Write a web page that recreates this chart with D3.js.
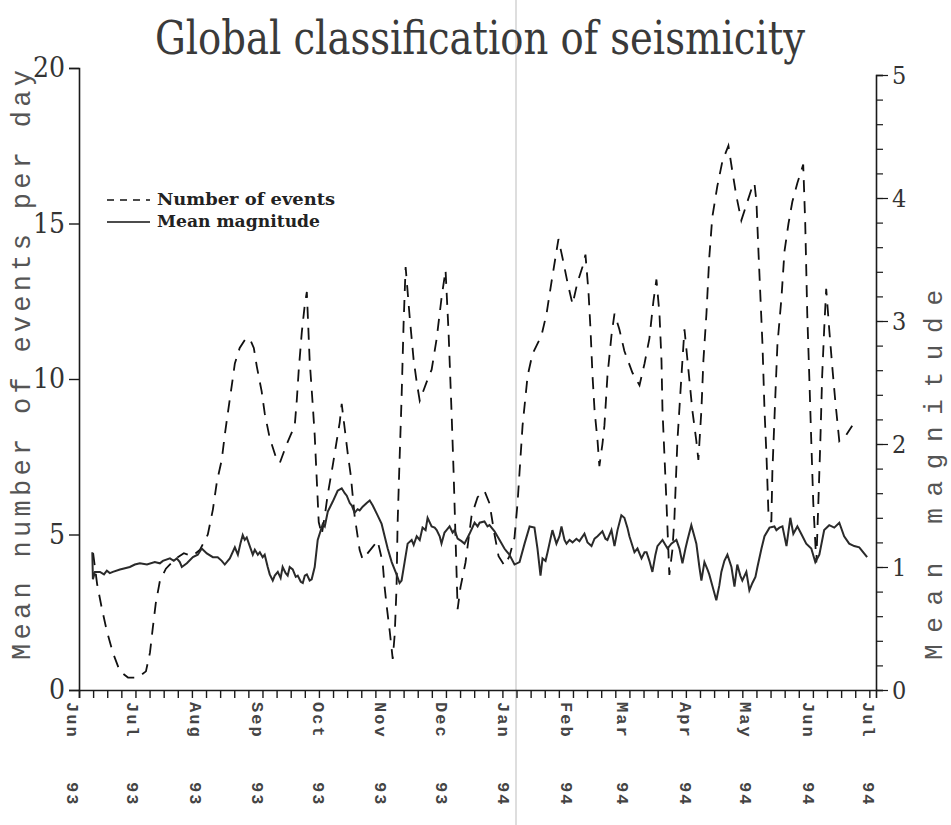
<!DOCTYPE html>
<html><head><meta charset="utf-8">
<script src="https://cdn.jsdelivr.net/npm/d3@7"></script>
<style>
html,body{margin:0;padding:0;background:#fff;}
svg{display:block;}
</style></head>
<body>
<svg id="chart" width="951" height="825"></svg>
<script>
// ---- data (days since 1 Jun 1993) ----
const eventDays = [10,12,14.4,16.8,19.8,23.3,27.3,32.2,36.2,38.2,39.6,41.1,43.1,46.1,50.5,55,59,62.9,66.9,69.4,71.4,73.8,75.3,76.8,78.8,80.3,82.7,85.7,87.7,89.7,91.2,93.6,95.1,97.6,100.6,102.6,106,108,110,111,112,113.5,115,116,117.4,118.9,119.9,120.9,121.9,123.4,124.9,126.4,128.8,130.8,132.3,133.3,134.8,136.3,137.8,139.7,142.2,143.7,146.2,148.7,151.1,153.6,154.6,155.6,157.1,158.6,159.6,160.5,161,162,163,164,165,167,169,170.5,172,175.4,177.9,180.4,182.8,184.8,186.3,187.8,188.8,189.8,190.8,192.2,194.7,197.7,200.7,204.1,206.6,209.1,211.1,214,216.5,219,220.5,221.5,223,225.5,227.9,232.4,234.9,237.3,239.3,240.8,242.8,245.3,247.8,250.2,252.7,254.2,255.7,256.7,257.7,258.7,260.2,261.1,262.6,263.6,265.1,267.1,268.6,271,273.5,277.5,281,283.5,285.9,287.9,289.4,290.9,291.9,292.4,293.4,294.4,295,295.8,297.3,298.3,299.8,301.8,303.3,304.8,307.2,309.2,310.2,311.7,312.7,314.2,315.6,317.1,319.6,322.1,325.1,327,329,331.5,334,336.5,338,339,340,341,342,343,344,345,346.4,346.9,348.4,349.4,351.4,352.9,354.9,356.8,359.3,362.2,363.2,364.2,365.2,366.2,367.2,368.7,369.7,370.7,371.6,372.6,373.6,375.1,376.6,378.1,380.1,383.5,386.5];
const eventValues = [4.4,3.4,2.6,1.9,1.2,0.6,0.4,0.4,0.6,1.2,2.0,2.8,3.5,3.9,4.2,4.4,4.3,4.5,5.0,5.8,6.7,7.4,8.2,8.9,9.8,10.5,11.0,11.3,11.3,11.0,10.4,9.6,8.9,8.1,7.5,7.3,7.9,8.2,8.5,9.3,10.3,11.5,12.4,12.8,10.6,9.2,8.2,6.8,5.4,5.0,5.6,6.3,7.2,8.0,8.6,9.2,8.4,7.6,6.9,5.6,4.5,4.2,4.4,4.6,4.8,4.1,3.3,2.7,1.9,1.0,1.8,3.3,5.3,7.4,9.4,11.8,13.6,12.0,10.6,9.9,9.3,9.9,10.3,11.3,12.6,13.5,11.5,8.9,7.0,4.8,2.6,3.3,4.1,5.6,6.2,6.4,6.0,5.0,4.3,4.0,4.3,4.9,6.0,7.0,8.5,10.1,10.8,11.4,12.1,13.1,13.9,14.5,13.9,13.1,12.4,13.1,13.6,14.0,12.8,11.6,10.1,9.0,8.0,7.2,7.9,8.5,10.1,11.4,12.1,11.6,10.9,10.2,9.8,10.5,11.3,12.5,13.2,12.1,10.6,9.0,7.5,6.0,5.0,3.7,4.5,5.5,8.0,10.1,11.6,10.6,9.0,8.0,7.4,9.0,10.6,12.1,13.9,15.2,16.2,17.0,17.5,16.7,15.9,15.1,15.6,16.1,16.3,15.7,14.1,12.6,11.1,9.0,7.5,5.6,5.4,7.0,9.5,11.1,12.6,14.1,15.0,15.7,16.3,16.9,15.0,12.1,10.1,8.0,6.0,4.1,6.0,8.0,10.1,11.6,12.9,11.6,10.4,9.3,8.0,8.2,8.5];

const magDays = [9.6,9.9,10.9,13.4,15.4,16.8,18.3,19.8,23.3,25.8,28.2,30.7,33.2,36.7,40.6,43.1,44.6,48.1,50,51.5,53,54,56.5,59.5,61.9,63.9,66.4,69.4,71.8,73.8,75.3,77.8,80.3,81.8,83.2,84.2,85.2,86.2,87.7,89.2,90.2,91.7,92.7,94.1,95.1,96.6,97.6,99.1,100.1,101.6,103,104,105.5,106.5,107.5,109,110.5,111.5,113,114,115,116,117.4,118.4,119.9,121.4,123.9,124.9,126.4,128.8,131.3,133.3,134.8,135.8,137.3,138.3,139.7,141.2,142.2,143.7,145.7,147.2,148.7,151.1,153.1,154.6,156.1,158.1,160.5,162,163,164.5,166,168,169,170.5,172,173.4,174.9,175.9,177.9,179.4,180.4,181.9,182.8,184.3,185.3,186.8,188.3,189.3,190.8,192.7,194.2,196.7,199.2,200.7,201.7,204.1,205.6,206.6,209.1,211.6,214,215,216.5,219,221.5,224,226.5,228.9,230.4,231.9,232.9,234.4,235.4,237.8,239.8,241.3,242.3,243.8,244.8,246.3,247.8,249.7,251.2,253.7,255.2,257.2,258.7,260.2,262.6,264.1,265.1,267.1,268.6,270.1,272,273.5,275,276,278.5,280,282,283.5,284.5,285.9,287.4,288.9,289.9,292.4,294.9,296.8,299.3,300.8,302.3,303.8,304.8,306.7,308.2,309.2,310.7,311.7,313.2,314.7,315.6,317.1,319.1,320.6,321.6,323.1,324.6,326.6,328.1,329.5,331,332,334,335.5,337,338.5,339.5,341.5,343,345.5,347.9,348.9,350.4,351.9,353.9,355.8,357.3,359.3,361.2,363.7,366.2,368.2,370.2,372.6,375.1,377.6,380.1,382.5,385,387.5,390,392.4,393.9];
const magValues = [1.12,0.90,0.96,0.96,0.94,0.97,0.95,0.96,0.98,0.99,1.00,1.02,1.03,1.02,1.04,1.03,1.05,1.07,1.05,1.07,1.04,1.00,1.03,1.08,1.10,1.15,1.11,1.08,1.08,1.05,1.02,1.07,1.16,1.10,1.20,1.26,1.22,1.24,1.17,1.10,1.14,1.10,1.12,1.08,1.10,1.00,0.94,0.89,0.93,0.96,0.91,1.00,0.95,0.93,1.00,0.98,0.92,0.93,0.88,0.87,0.93,0.94,0.89,0.90,1.00,1.22,1.35,1.33,1.45,1.53,1.62,1.64,1.60,1.58,1.52,1.50,1.44,1.47,1.46,1.49,1.52,1.54,1.50,1.42,1.35,1.25,1.15,1.04,0.94,0.87,0.89,1.04,1.19,1.22,1.18,1.25,1.22,1.32,1.30,1.40,1.33,1.32,1.30,1.25,1.19,1.28,1.30,1.33,1.28,1.30,1.23,1.21,1.19,1.27,1.36,1.33,1.36,1.37,1.33,1.34,1.29,1.22,1.15,1.13,1.10,1.02,1.04,1.19,1.33,1.32,1.15,0.93,1.07,1.05,1.12,1.30,1.19,1.25,1.33,1.22,1.19,1.22,1.20,1.23,1.21,1.27,1.20,1.17,1.23,1.25,1.29,1.23,1.22,1.30,1.17,1.30,1.42,1.40,1.32,1.25,1.12,1.15,1.07,1.12,1.12,1.05,0.96,1.10,1.17,1.22,1.15,1.19,1.22,1.15,1.03,1.15,1.22,1.34,1.25,1.19,1.00,0.89,1.04,0.98,0.94,0.85,0.73,0.85,0.96,1.05,1.10,1.00,0.84,1.02,0.93,0.89,0.96,0.81,0.87,0.92,1.00,1.15,1.25,1.32,1.33,1.30,1.32,1.33,1.17,1.40,1.27,1.33,1.27,1.19,1.15,1.04,1.10,1.30,1.34,1.32,1.36,1.25,1.19,1.17,1.16,1.11,1.08];

const monthLabels = ["Jun","Jul","Aug","Sep","Oct","Nov","Dec","Jan","Feb","Mar","Apr","May","Jun","Jul"];
const yearLabels  = ["93","93","93","93","93","93","93","94","94","94","94","94","94","94"];
const leftTicks = [0,5,10,15,20];
const rightTicks = [0,1,2,3,4,5];
const legendLabels = ["Number of events","Mean magnitude"];
const titleText = "Global classification of seismicity";
const leftTitle = "Mean number of events per day";
const rightTitle = "Mean magnitude";

// ---- layout ----
const base = new Date(1993,5,1).getTime();
const toDate = d => new Date(base + d*864e5);
const X0 = 79, X1 = 876, YB = 690;
const x = d3.scaleTime().domain([toDate(3), toDate(398.3)]).range([X0, X1]);
const yL = d3.scaleLinear().domain([0,20]).range([YB, 68]);
const yR = d3.scaleLinear().domain([0,5]).range([YB, 75]);

const svg = d3.select("#chart");
const ink = "#1a1a1a";

// scan fold line
svg.append("line").attr("x1",516).attr("x2",516).attr("y1",0).attr("y2",825)
  .attr("stroke","#c8c8c8").attr("stroke-width",1.2);

// title
svg.append("text").attr("x",480).attr("y",54).attr("text-anchor","middle")
  .attr("font-family","DejaVu Serif Condensed").attr("font-size",46)
  .attr("textLength",650).attr("lengthAdjust","spacingAndGlyphs")
  .attr("fill","#3a3a3a").text(titleText);

// left axis
const gL = svg.append("g").attr("transform",`translate(${X0},0)`);
gL.call(d3.axisLeft(yL).tickValues(leftTicks).tickSize(10).tickPadding(4).tickFormat(d3.format("d")));
gL.select(".domain").attr("stroke",ink).attr("stroke-width",1.6);
gL.selectAll(".tick line").attr("stroke",ink).attr("stroke-width",1.4);
gL.selectAll(".tick text").attr("font-family","DejaVu Serif Condensed").attr("font-size",28).attr("fill","#333");

// right axis
const gR = svg.append("g").attr("transform",`translate(${X1},0)`);
gR.call(d3.axisRight(yR).tickValues(d3.range(0,5.01,0.2)).tickSize(7).tickFormat(""));
gR.select(".domain").attr("stroke",ink).attr("stroke-width",1.6);
gR.selectAll(".tick line").attr("stroke",ink).attr("stroke-width",1.2);
const gR2 = svg.append("g").attr("transform",`translate(${X1},0)`);
gR2.call(d3.axisRight(yR).tickValues(rightTicks).tickSize(12).tickPadding(4).tickFormat(d3.format("d")));
gR2.select(".domain").remove();
gR2.selectAll(".tick line").attr("stroke",ink).attr("stroke-width",1.2);
gR2.selectAll(".tick text").attr("font-family","DejaVu Serif Condensed").attr("font-size",25).attr("fill","#333");

// bottom axis (weekly ticks)
const weekTicks = d3.range(3, 399, 7).map(toDate);
const gB = svg.append("g").attr("transform",`translate(0,${YB})`);
gB.call(d3.axisBottom(x).tickValues(weekTicks).tickSize(8).tickFormat(""));
gB.select(".domain").attr("stroke",ink).attr("stroke-width",1.6);
gB.selectAll(".tick line").attr("stroke",ink).attr("stroke-width",1.4);

// month labels
const months = d3.timeMonth.range(new Date(1993,5,1), new Date(1994,6,2));
months.forEach((m,i) => {
  const px = x(m);
  svg.append("text").attr("transform",`translate(${px},702) rotate(90)`)
    .attr("dy","0.35em").attr("font-family","Liberation Mono").attr("font-weight","bold")
    .attr("font-size",17).attr("letter-spacing",2).attr("fill","#444").text(monthLabels[i]);
  svg.append("text").attr("transform",`translate(${px},782) rotate(90)`)
    .attr("dy","0.35em").attr("font-family","Liberation Mono").attr("font-weight","bold")
    .attr("font-size",17).attr("letter-spacing",2).attr("fill","#444").text(yearLabels[i]);
});

// axis titles
svg.append("text").attr("transform","translate(30,365) rotate(-90)").attr("text-anchor","middle")
  .attr("font-family","Liberation Mono").attr("font-size",27).attr("fill","#555")
  .attr("textLength",590).attr("lengthAdjust","spacing").text(leftTitle);
svg.append("text").attr("transform","translate(942,475) rotate(-90)").attr("text-anchor","middle")
  .attr("font-family","Liberation Mono").attr("font-size",26).attr("fill","#555")
  .attr("textLength",370).attr("lengthAdjust","spacing").text(rightTitle);

// series
const evData = eventDays.map((d,i)=>({t:toDate(d), v:eventValues[i]}));
const mgData = magDays.map((d,i)=>({t:toDate(d), v:magValues[i]}));
svg.append("path").datum(evData)
  .attr("d", d3.line().x(d=>x(d.t)).y(d=>yL(d.v)))
  .attr("fill","none").attr("stroke","#111").attr("stroke-width",1.8)
  .attr("stroke-dasharray","12,9");
svg.append("path").datum(mgData)
  .attr("d", d3.line().x(d=>x(d.t)).y(d=>yR(d.v)))
  .attr("fill","none").attr("stroke","#2a2a2a").attr("stroke-width",2);

// legend
const lg = svg.append("g");
[0,1].forEach(i=>{
  const ly = 200 + i*22;
  lg.append("line").attr("x1",107).attr("x2",150).attr("y1",ly).attr("y2",ly)
    .attr("stroke","#111").attr("stroke-width",1.6)
    .attr("stroke-dasharray", i===0 ? "7,6" : null);
  lg.append("text").attr("x",157).attr("y",ly+5)
    .attr("font-family","DejaVu Serif Condensed").attr("font-weight","bold").attr("font-size",16)
    .attr("textLength", i===0 ? 178 : 163).attr("lengthAdjust","spacingAndGlyphs")
    .attr("fill","#222").text(legendLabels[i]);
});
</script>
</body></html>
